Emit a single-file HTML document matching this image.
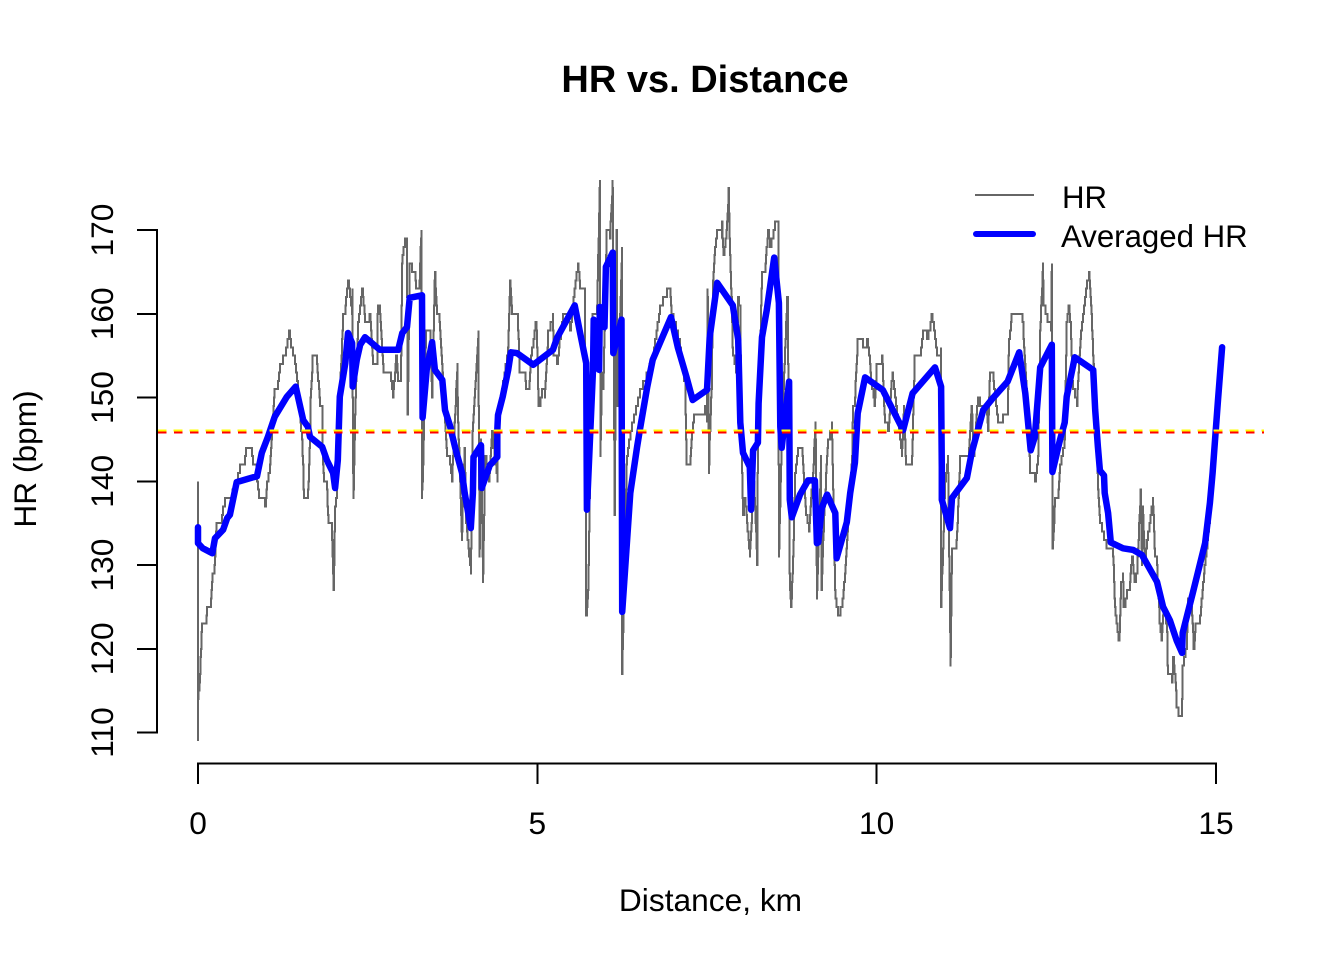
<!DOCTYPE html>
<html lang="en">
<head>
<meta charset="utf-8">
<title>HR vs. Distance</title>
<style>
html,body{margin:0;padding:0;background:#fff;}
svg{display:block;font-family:"Liberation Sans",Arial,sans-serif;}
</style>
</head>
<body>
<svg id="chart" xmlns="http://www.w3.org/2000/svg" width="1344" height="960" viewBox="0 0 1344 960">
<rect x="0" y="0" width="1344" height="960" fill="#fff"/>
<text x="705" y="92" text-anchor="middle" font-size="38" font-weight="bold" fill="#000">HR vs. Distance</text>
<text x="710.5" y="911" text-anchor="middle" font-size="31.7" fill="#000">Distance, km</text>
<text transform="translate(36 459) rotate(-90)" text-anchor="middle" font-size="31.7" fill="#000">HR (bpm)</text>
<g id="series"></g>
<g id="axes"></g>
<g>
<line x1="975" y1="195" x2="1034" y2="195" stroke="#666" stroke-width="2" shape-rendering="crispEdges"/>
<text x="1062" y="208" font-size="31.2" fill="#000">HR</text>
<line x1="976" y1="234" x2="1033" y2="234" stroke="#00f" stroke-width="6" stroke-linecap="round"/>
<text x="1061" y="247" font-size="31.2" fill="#000">Averaged HR</text>
</g>
</svg>
<script>
const hrKm = [
0,0,0,.03,.06,.12,.13,.19,.21,.24,
.25,.27,.34,.37,.40,.47,.59,.62,.68,.71,
.78,.81,.85,.87,.90,.96,.99,1.02,1.06,1.08,
1.09,1.13,1.18,1.21,1.25,1.30,1.34,1.37,1.40,1.43,
1.46,1.53,1.55,1.56,1.62,1.65,1.66,1.69,1.75,1.77,
1.80,1.83,1.84,1.86,1.90,1.92,1.97,2.00,2.02,2.05,
2.06,2.14,2.17,2.21,2.24,2.27,2.28,2.28,2.29,2.32,
2.36,2.39,2.42,2.46,2.53,2.58,2.64,2.65,2.68,2.73,
2.83,2.87,2.92,2.95,2.99,3.01,3.05,3.08,3.09,3.12,
3.15,3.20,3.21,3.26,3.29,3.30,3.32,3.36,3.42,3.45,
3.49,3.52,3.55,3.58,3.67,3.71,3.74,3.76,3.82,3.83,
3.89,3.90,3.93,3.95,4.02,4.04,4.05,4.13,4.15,4.17,
4.20,4.23,4.29,4.33,4.41,4.42,4.57,4.60,4.63,4.71,
4.74,4.82,4.83,4.88,4.91,4.97,4.99,5.02,5.07,5.11,
5.16,5.23,5.24,5.29,5.33,5.38,5.45,5.48,5.55,5.58,
5.60,5.63,5.70,5.72,5.75,5.78,5.81,5.88,5.92,5.93,
5.95,5.97,6.01,6.02,6.07,6.11,6.14,6.17,6.18,6.25,
6.25,6.29,6.32,6.37,6.51,6.70,6.81,6.85,6.91,6.95,
6.98,7.10,7.18,7.20,7.25,7.28,7.31,7.40,7.47,7.50,
7.51,7.53,7.54,7.57,7.59,7.62,7.65,7.72,7.72,7.74,
7.79,7.82,7.84,7.87,7.88,7.93,7.96,7.99,8.01,8.03,
8.06,8.10,8.13,8.16,8.18,8.24,8.25,8.31,8.35,8.40,
8.43,8.50,8.55,8.56,8.60,8.68,8.69,8.72,8.74,8.77,
8.80,8.84,8.90,8.96,9.00,9.06,9.10,9.12,9.18,9.19,
9.21,9.28,9.34,9.39,9.43,9.50,9.55,9.58,9.64,9.65,
9.68,9.72,9.80,9.86,9.90,9.93,9.97,10.00,10.08,10.09,
10.12,10.17,10.23,10.27,10.37,10.40,10.43,10.52,10.56,10.64,
10.68,10.74,10.79,10.81,10.89,10.95,10.95,11.01,11.05,11.09,
11.11,11.18,11.23,11.35,11.40,11.43,11.49,11.52,11.62,11.64,
11.67,11.71,11.74,11.77,11.79,11.86,11.93,11.95,11.99,12.14,
12.16,12.23,12.26,12.33,12.38,12.41,12.45,12.46,12.52,12.57,
12.58,12.59,12.63,12.67,12.70,12.77,12.80,12.83,12.86,12.89,
12.95,13.00,13.04,13.10,13.13,13.16,13.21,13.25,13.26,13.29,
13.35,13.39,13.48,13.50,13.51,13.56,13.58,13.60,13.63,13.64,
13.69,13.73,13.76,13.80,13.84,13.89,13.91,13.92,13.95,14.00,
14.07,14.10,14.13,14.17,14.20,14.23,14.28,14.29,14.35,14.37,
14.41,14.42,14.45,14.50,14.51,14.57,14.59,14.65,14.67,14.70,
14.75,14.79,14.82,14.91,15.00,15.09
];
const hrBpm = [
109,140,114,117,123,123,125,125,129,129,
131,135,135,137,138,138,141,142,142,144,
144,142,142,140,138,138,137,140,142,145,
146,151,152,154,155,156,158,156,155,154,
152,145,142,138,138,145,150,155,154,152,
149,149,142,140,139,135,135,127,137,139,
145,160,161,164,162,160,163,150,138,150,
159,161,163,159,160,154,154,161,160,153,
153,150,155,152,152,167,169,168,148,166,
165,165,163,163,170,138,143,158,158,150,
165,160,160,156,143,142,140,143,154,148,
133,137,144,135,129,141,147,158,131,145,
128,143,140,146,140,148,156,164,160,160,
153,153,151,151,155,159,158,149,151,150,
158,160,155,154,157,160,160,158,163,165,
166,163,162,124,127,142,160,160,176,143,
153,151,164,170,169,176,136,170,149,168,
117,132,143,146,151,155,161,162,163,163,
160,156,151,142,142,146,148,148,149,147,
163,141,145,152,164,168,170,169,171,167,
170,175,167,160,155,153,162,160,144,136,
138,134,131,136,143,130,145,165,165,170,
168,171,170,131,145,162,162,128,125,131,
141,144,144,136,134,141,147,126,143,127,
133,145,147,126,124,126,131,135,143,149,
150,157,156,157,154,151,149,154,155,153,
147,146,153,150,143,149,142,142,155,155,
158,157,159,160,155,156,125,140,143,118,
132,133,143,143,149,143,150,149,149,146,
153,153,150,148,147,148,148,157,160,160,
158,148,141,140,143,158,166,161,159,158,
166,132,138,138,142,145,159,161,158,151,
149,157,160,164,165,161,151,144,139,135,
133,132,132,128,125,121,122,128,129,125,
127,128,131,128,130,139,130,137,131,134,
138,131,130,123,121,125,122,117,116,119,
115,113,112,113,118,121,126,124,120,123,
123,126,129,136,146,156
];
const avgKm = [
0,0,.07,.21,.25,.37,.43,.47,.57,.87,
.94,1.03,1.13,1.31,1.44,1.55,1.62,1.65,1.83,1.90,
1.99,2.02,2.06,2.09,2.17,2.21,2.27,2.28,2.34,2.39,
2.46,2.68,2.95,3.01,3.08,3.12,3.30,3.31,3.37,3.45,
3.49,3.60,3.64,3.71,3.79,3.89,3.93,4.02,4.05,4.06,
4.17,4.18,4.30,4.41,4.41,4.42,4.49,4.57,4.61,4.70,
4.94,5.23,5.29,5.55,5.63,5.72,5.73,5.82,5.83,5.91,
5.92,5.99,6.01,6.11,6.12,6.24,6.25,6.37,6.47,6.51,
6.62,6.70,6.97,7.07,7.20,7.29,7.50,7.54,7.65,7.88,
7.96,7.99,8.03,8.13,8.15,8.18,8.25,8.26,8.31,8.38,
8.49,8.56,8.58,8.60,8.71,8.72,8.75,8.87,8.99,9.09,
9.12,9.14,9.19,9.27,9.39,9.41,9.56,9.61,9.68,9.72,
9.83,10.09,10.39,10.53,10.86,10.95,10.96,10.96,11.08,11.11,
11.33,11.40,11.52,11.57,11.71,11.93,12.10,12.19,12.27,12.33,
12.41,12.58,12.59,12.70,12.77,12.80,12.92,13.19,13.22,13.26,
13.29,13.35,13.36,13.41,13.45,13.63,13.78,13.91,14.13,14.22,
14.32,14.42,14.50,14.51,14.66,14.84,14.91,14.95,15.03,15.09
];
const avgBpm = [
134.5,132.6,132,131.4,133.2,134.2,135.6,136,139.9,140.6,
143.4,145.3,147.7,150.1,151.3,147.3,146.5,145.3,144.1,142.5,
141,139.2,142.5,150.1,154.1,157.7,156.5,151.3,154.5,156.3,
157.2,155.7,155.7,157.7,158.4,161.9,162.2,147.6,153.3,156.6,
153.3,152.1,148.5,146.7,144,141,138.6,134.4,138.6,142.9,
144.3,139.2,141.9,142.9,146.1,147.9,150.1,153.3,155.4,155.3,
153.9,155.7,157.1,161,157.7,154.1,136.6,153.3,159.3,153.3,
160.8,158.4,165.6,167.3,155.3,159.3,124.4,138.6,144.1,146.1,
151.3,154.5,159.6,156,152.4,149.7,150.9,157.2,163.7,161,
156.9,147,143.4,141.7,136.6,143.7,144.6,149.3,157.2,160.4,
166.7,161.3,146.5,144,151.9,137.8,135.7,138.4,140.1,140.1,
132.6,132.7,136.8,138.4,136.2,130.8,135.1,138.6,142.2,148.1,
152.4,150.9,146.1,150.5,153.6,151.3,141.7,137.8,134.4,138,
140.4,143.4,147,148.5,149.9,151.9,155.4,150.5,143.7,145.3,
153.6,156.3,141.1,144.9,147,150.1,154.8,153.3,148.5,144.1,
141.3,140.7,138.6,136.2,132.7,132,131.8,131.2,128,125,
123.4,121,119.5,121.9,126.7,132.6,137.4,141,149.7,156
];
const meanHr = [145.9];
const xTicks = [0, 5, 10, 15];
const yTicks = [110, 120, 130, 140, 150, 160, 170];

const NS = 'http://www.w3.org/2000/svg';
const PLOT_LEFT = 158, PLOT_RIGHT = 1264;
function xScale(km) { return 198 + km * 1018 / 15; }
function yScale(bpm) { return 732.5 - (bpm - 110) * 502.5 / 60; }
function make(tag, parent, attrs) {
  const el = document.createElementNS(NS, tag);
  for (const k in attrs) el.setAttribute(k, attrs[k]);
  parent.appendChild(el);
  return el;
}
function pointsOf(xs, ys) {
  return xs.map(function (x, i) { return xScale(x).toFixed(1) + ',' + yScale(ys[i]).toFixed(1); }).join(' ');
}
/* whole-bpm staircase between readings, as a sensor with integer output draws */
function stairPointsOf(xs, ys) {
  const out = [xScale(xs[0]).toFixed(1) + ',' + yScale(ys[0]).toFixed(1)];
  for (let i = 1; i < xs.length; i++) {
    const n = Math.max(1, Math.round(Math.abs(ys[i] - ys[i - 1])));
    for (let s = 1; s <= n; s++) {
      const km = xs[i - 1] + (xs[i] - xs[i - 1]) * s / n;
      const before = ys[i - 1] + (ys[i] - ys[i - 1]) * (s - 1) / n;
      const after = ys[i - 1] + (ys[i] - ys[i - 1]) * s / n;
      out.push(xScale(km).toFixed(1) + ',' + yScale(before).toFixed(1));
      out.push(xScale(km).toFixed(1) + ',' + yScale(after).toFixed(1));
    }
  }
  return out.join(' ');
}

const series = document.getElementById('series');
const axes = document.getElementById('axes');

const hrLine = make('polyline', series, { points: stairPointsOf(hrKm, hrBpm), fill: 'none', stroke: '#666', 'stroke-width': 2, 'shape-rendering': 'crispEdges' });



const avgLine = make('polyline', series, { points: pointsOf(avgKm, avgBpm), fill: 'none', stroke: '#00f', 'stroke-width': 6.5, 'stroke-linejoin': 'round', 'stroke-linecap': 'round' });



const meanY = yScale(meanHr[0]);
const yellowLine = make('line', series, { x1: PLOT_LEFT - 0.5, x2: PLOT_RIGHT, y1: meanY - 1.5, y2: meanY - 1.5, stroke: '#ff0', 'stroke-width': 2, 'stroke-dasharray': '9 7', 'shape-rendering': 'crispEdges' });



const redLine = make('line', series, { x1: PLOT_LEFT, x2: PLOT_RIGHT, y1: meanY + 0.5, y2: meanY + 0.5, stroke: '#f00', 'stroke-width': 2, 'stroke-dasharray': '8.5 7.5', 'shape-rendering': 'crispEdges' });



const xAxisLine = make('line', axes, { x1: xScale(xTicks[0]) - 1, x2: xScale(xTicks[xTicks.length - 1]) + 1, y1: 763.5, y2: 763.5, stroke: '#000', 'stroke-width': 2, 'shape-rendering': 'crispEdges' });



const yAxisLine = make('line', axes, { x1: 157, x2: 157, y1: yScale(yTicks[0]) + 1, y2: yScale(yTicks[yTicks.length - 1]) - 1, stroke: '#000', 'stroke-width': 2, 'shape-rendering': 'crispEdges' });



xTicks.forEach(function (t) {
  const px = xScale(t);
  const tick = make('line', axes, { x1: px, x2: px, y1: 763, y2: 784, stroke: '#000', 'stroke-width': 2, 'shape-rendering': 'crispEdges' });
  
  
  const label = make('text', axes, { x: px, y: 834, 'text-anchor': 'middle', 'font-size': 31.7, fill: '#000' });
  label.textContent = String(t);
  
  
});

yTicks.forEach(function (t) {
  const py = yScale(t);
  const tick = make('line', axes, { x1: 137, x2: 158, y1: py, y2: py, stroke: '#000', 'stroke-width': 2, 'shape-rendering': 'crispEdges' });
  
  
  const label = make('text', axes, { transform: 'translate(113 ' + py + ') rotate(-90)', 'text-anchor': 'middle', 'font-size': 31.7, fill: '#000' });
  label.textContent = String(t);
  
  
});
</script>
</body>
</html>
